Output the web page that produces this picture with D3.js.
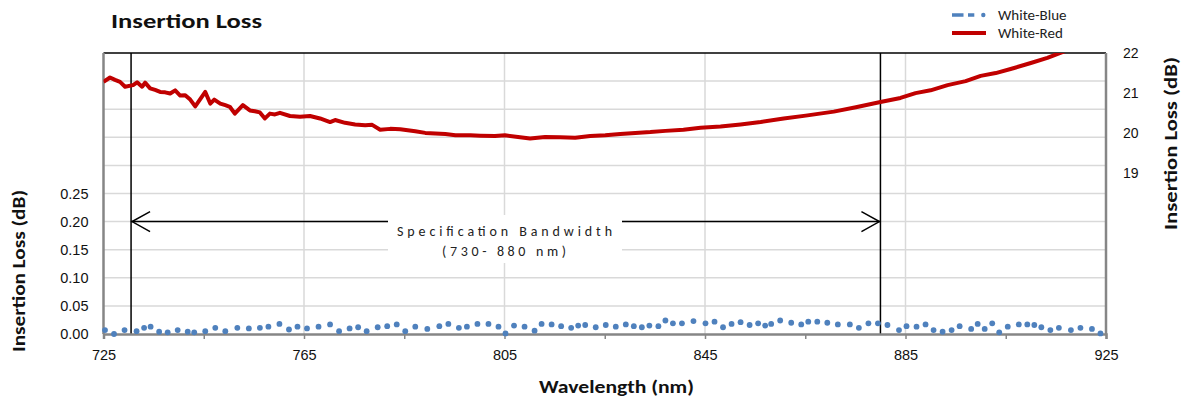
<!DOCTYPE html>
<html>
<head>
<meta charset="utf-8">
<script src="https://cdn.jsdelivr.net/npm/d3@7"></script>
<style>
  body { margin: 0; background: #fff; }
  svg { display: block; font-family: Carlito, Calibri, Lato, sans-serif; }
</style>
</head>
<body>
<svg id="chart" width="1181" height="401"></svg>
<script>
// White-Red (right axis, dB)
const redWl = [725, 726.3, 727.3, 728.3, 729.3, 730.9, 731.7, 732.7, 733.3, 734.3, 735.3, 736.3, 737.3, 738.3,
  739.3, 740.3, 741.3, 742.3, 743.3, 744.3, 745.3, 746.3, 747.1, 748.3, 749.3, 750.2, 751.2, 752.8, 754.2,
  755.2, 756.2, 757.2, 758.2, 759.2, 760.2, 762.2, 764.2, 766.2, 768.2, 770.2, 771.2, 773.2, 775.2, 777.2,
  778.6, 780.2, 782.2, 784.2, 787.2, 789.2, 793.2, 795.2, 798.2, 800.2, 803.1, 805.1, 808.1, 810.1, 813.1,
  816.1, 819.1, 822.1, 825.1, 828.1, 831.1, 834.1, 837.1, 840.7, 844.1, 848.1, 852.1, 856.1, 860.7, 865.1,
  870.7, 875.1, 880, 884, 887, 890, 893.4, 897, 900, 903, 906.5, 910, 913.3, 917.3, 921, 925];
const redLoss = [21.28, 21.39, 21.33, 21.28, 21.16, 21.20, 21.27, 21.16, 21.26, 21.12, 21.08, 21.03, 21.02, 20.99,
  21.07, 20.94, 20.95, 20.84, 20.67, 20.85, 21.03, 20.74, 20.84, 20.74, 20.70, 20.66, 20.49, 20.70, 20.57,
  20.55, 20.52, 20.37, 20.49, 20.47, 20.51, 20.43, 20.41, 20.43, 20.37, 20.28, 20.33, 20.26, 20.22, 20.20,
  20.21, 20.09, 20.11, 20.10, 20.05, 20.01, 19.98, 19.95, 19.95, 19.94, 19.93, 19.95, 19.90, 19.87, 19.91,
  19.90, 19.89, 19.93, 19.95, 19.98, 20.01, 20.03, 20.06, 20.09, 20.14, 20.17, 20.22, 20.28, 20.37, 20.44,
  20.54, 20.65, 20.78, 20.88, 21.00, 21.07, 21.20, 21.30, 21.43, 21.50, 21.62, 21.75, 21.88, 22.07, 22.20, 22.35];

// White-Blue (left axis, dB)
const blueWl = [725.3, 727.1, 729.2, 731.6, 733.1, 734.4, 736.1, 737.8, 739.8, 741.8, 743.1, 745.3, 747.3, 749.3,
  751.7, 754.0, 756.2, 757.9, 760.1, 762.0, 763.7, 765.6, 767.9, 770.2, 772.0, 774.1, 775.8, 777.5, 779.7,
  781.6, 783.5, 785.2, 787.2, 789.6, 792.0, 793.8, 795.9, 797.5, 799.6, 801.8, 803.8, 805.2, 806.9, 809.0,
  811.0, 812.4, 814.4, 816.3, 818.3, 819.7, 821.1, 823.2, 825.2, 827.2, 829.2, 830.8, 832.4, 833.9, 835.7,
  837.1, 838.6, 840.4, 842.7, 845.1, 846.9, 848.6, 850.3, 852.1, 853.9, 855.6, 857.0, 858.2, 860.0, 862.2,
  864.2, 865.6, 867.4, 869.4, 871.5, 873.9, 875.7, 877.6, 879.5, 881.4, 883.7, 885.2, 887.2, 889.0, 890.6,
  892.4, 894.2, 895.8, 898.1, 899.4, 900.8, 902.3, 903.7, 905.4, 907.6, 909.3, 910.7, 912.1, 913.9, 915.6,
  918.0, 919.9, 922.2, 923.9];
const blueLoss = [0.007, 0.000, 0.007, 0.005, 0.011, 0.013, 0.004, 0.003, 0.007, 0.004, 0.003, 0.005, 0.011, 0.005,
  0.011, 0.010, 0.011, 0.013, 0.018, 0.008, 0.013, 0.010, 0.013, 0.017, 0.005, 0.010, 0.012, 0.005, 0.012,
  0.014, 0.017, 0.005, 0.013, 0.009, 0.014, 0.018, 0.011, 0.013, 0.018, 0.018, 0.013, 0.001, 0.015, 0.013,
  0.006, 0.018, 0.017, 0.014, 0.011, 0.015, 0.016, 0.012, 0.016, 0.013, 0.017, 0.014, 0.012, 0.015, 0.014,
  0.024, 0.019, 0.019, 0.023, 0.019, 0.022, 0.012, 0.018, 0.021, 0.016, 0.019, 0.015, 0.018, 0.024, 0.020,
  0.017, 0.022, 0.022, 0.020, 0.017, 0.017, 0.011, 0.019, 0.019, 0.016, 0.007, 0.014, 0.013, 0.017, 0.007,
  0.004, 0.007, 0.014, 0.009, 0.018, 0.009, 0.019, 0.003, 0.013, 0.017, 0.017, 0.016, 0.012, 0.007, 0.011,
  0.007, 0.011, 0.009, 0.001];

const xTicks = d3.range(725, 926, 20);
const xLabels = [725, 765, 805, 845, 885, 925];
const leftTicks = [0, 0.05, 0.10, 0.15, 0.20, 0.25];
const rightTicks = [19, 20, 21, 22];
const specBand = [730.5, 880];

const svg = d3.select("#chart");
const margin = { top: 53, right: 75, bottom: 67, left: 103.5 };
const width = 1181, height = 401;
const plotBottom = height - margin.bottom;
const plotRight = width - margin.right;

const x = d3.scaleLinear().domain([725, 925]).range([margin.left, plotRight]);
const yL = d3.scaleLinear().domain([0, 0.5]).range([plotBottom, margin.top]);
const yR = d3.scaleLinear().domain([15, 22]).range([plotBottom, margin.top]);

svg.append("defs").append("clipPath").attr("id", "plot")
  .append("rect").attr("x", margin.left).attr("y", margin.top)
  .attr("width", plotRight - margin.left).attr("height", plotBottom - margin.top);

// gridlines
const grid = svg.append("g").attr("stroke", "#d9d9d9").attr("stroke-width", 1.5);
grid.selectAll(".h").data(d3.range(0.05, 0.5, 0.05)).enter().append("line")
  .attr("x1", margin.left).attr("x2", plotRight)
  .attr("y1", d => yL(d)).attr("y2", d => yL(d));
grid.selectAll(".v").data(xLabels.slice(1, -1)).enter().append("line")
  .attr("x1", d => x(d)).attr("x2", d => x(d))
  .attr("y1", margin.top).attr("y2", plotBottom);

// top border
svg.append("line").attr("x1", margin.left).attr("x2", plotRight)
  .attr("y1", margin.top).attr("y2", margin.top)
  .attr("stroke", "#000").attr("stroke-width", 1.5);

// spec annotation: text box
const boxX0 = 388, boxX1 = 622;
svg.append("rect").attr("x", boxX0).attr("y", 215).attr("width", boxX1 - boxX0).attr("height", 48)
  .attr("fill", "#fff");

// spec vertical lines
svg.selectAll(".spec").data(specBand).enter().append("line")
  .attr("x1", d => x(d)).attr("x2", d => x(d))
  .attr("y1", margin.top).attr("y2", plotBottom)
  .attr("stroke", "#000").attr("stroke-width", 1.5);

// arrows
const ay = yL(0.20);
const arrows = svg.append("g").attr("stroke", "#000").attr("stroke-width", 1.5).attr("fill", "none");
arrows.append("line").attr("x1", x(specBand[0])).attr("x2", boxX0).attr("y1", ay).attr("y2", ay);
arrows.append("line").attr("x1", boxX1).attr("x2", x(specBand[1])).attr("y1", ay).attr("y2", ay);
arrows.append("path").attr("d", `M${x(specBand[0]) + 19},${ay - 10}L${x(specBand[0]) + 1},${ay}L${x(specBand[0]) + 19},${ay + 10}`);
arrows.append("path").attr("d", `M${x(specBand[1]) - 19},${ay - 10}L${x(specBand[1]) - 1},${ay}L${x(specBand[1]) - 19},${ay + 10}`);

svg.append("text").attr("x", 397).attr("y", 236)
  .attr("textLength", 215).attr("lengthAdjust", "spacing")
  .style("font-size", "14px").attr("fill", "#222")
  .text("Specification Bandwidth");
svg.append("text").attr("x", 442).attr("y", 256)
  .attr("textLength", 124).attr("lengthAdjust", "spacing")
  .style("font-size", "14px").attr("fill", "#222")
  .text("(730- 880 nm)");

// axes
const axisColor = "#868686";
const gx = svg.append("g").attr("transform", `translate(0,${plotBottom})`)
  .call(d3.axisBottom(x).tickValues(xTicks).tickSize(5).tickPadding(11)
    .tickFormat(d => xLabels.includes(d) ? d : ""));
const gl = svg.append("g").attr("transform", `translate(${margin.left},0)`)
  .call(d3.axisLeft(yL).tickValues(leftTicks).tickSize(0).tickPadding(15).tickFormat(d3.format(".2f")));
const gr = svg.append("g").attr("transform", `translate(${plotRight},0)`)
  .call(d3.axisRight(yR).tickValues(rightTicks).tickSize(0).tickPadding(17).tickFormat(d3.format("d")));

[gx, gl, gr].forEach(g => {
  g.select(".domain").attr("stroke", axisColor).attr("stroke-width", 2.5);
  g.selectAll(".tick line").attr("stroke", axisColor).attr("stroke-width", 1.5);
  g.selectAll("text").style("font-size", "14.5px").attr("fill", "#111").style("font-family", null);
});
gr.selectAll("text").style("font-size", "14px");
gl.select(".domain").attr("d", `M0,${plotBottom}V${margin.top}`);
gr.select(".domain").attr("d", `M0,${plotBottom}V${margin.top}`);

// series
svg.append("path")
  .datum(redWl.map((w, i) => [w, redLoss[i]]))
  .attr("clip-path", "url(#plot)")
  .attr("fill", "none").attr("stroke", "#c00000").attr("stroke-width", 4)
  .attr("stroke-linejoin", "round")
  .attr("d", d3.line().x(d => x(d[0])).y(d => yR(d[1])));

svg.append("g").selectAll("circle")
  .data(blueWl.map((w, i) => [w, blueLoss[i]]))
  .enter().append("circle")
  .attr("cx", d => x(d[0])).attr("cy", d => yL(d[1])).attr("r", 2.9)
  .attr("fill", "#4f81bd");

// titles
svg.append("text").attr("x", 111).attr("y", 28)
  .attr("textLength", 151).attr("lengthAdjust", "spacingAndGlyphs")
  .style("font-size", "21px").style("font-weight", "bold").attr("fill", "#111")
  .text("Insertion Loss");

svg.append("text").attr("transform", "translate(25,271) rotate(-90)").attr("text-anchor", "middle")
  .attr("textLength", 162).attr("lengthAdjust", "spacingAndGlyphs")
  .style("font-size", "18px").style("font-weight", "bold").attr("fill", "#111")
  .text("Insertion Loss (dB)");
svg.append("text").attr("transform", "translate(1177,143.5) rotate(-90)").attr("text-anchor", "middle")
  .attr("textLength", 173).attr("lengthAdjust", "spacingAndGlyphs")
  .style("font-size", "18.5px").style("font-weight", "bold").attr("fill", "#111")
  .text("Insertion Loss (dB)");
svg.append("text").attr("x", 539).attr("y", 393)
  .attr("textLength", 155).attr("lengthAdjust", "spacingAndGlyphs")
  .style("font-size", "18px").style("font-weight", "bold").attr("fill", "#111")
  .text("Wavelength (nm)");

// legend
const legend = svg.append("g");
legend.append("line").attr("x1", 952).attr("x2", 974.3).attr("y1", 15).attr("y2", 15)
  .attr("stroke", "#4f81bd").attr("stroke-width", 3.5).attr("stroke-dasharray", "11.5 4.5 6.8 20");
legend.append("circle").attr("cx", 983.3).attr("cy", 15).attr("r", 2.2).attr("fill", "#4f81bd");
legend.append("line").attr("x1", 952).attr("x2", 986).attr("y1", 33).attr("y2", 33)
  .attr("stroke", "#c00000").attr("stroke-width", 4);
legend.append("text").attr("x", 998).attr("y", 20).style("font-size", "15px").attr("fill", "#222").text("White-Blue");
legend.append("text").attr("x", 998).attr("y", 38).style("font-size", "15px").attr("fill", "#222").text("White-Red");
</script>
</body>
</html>
